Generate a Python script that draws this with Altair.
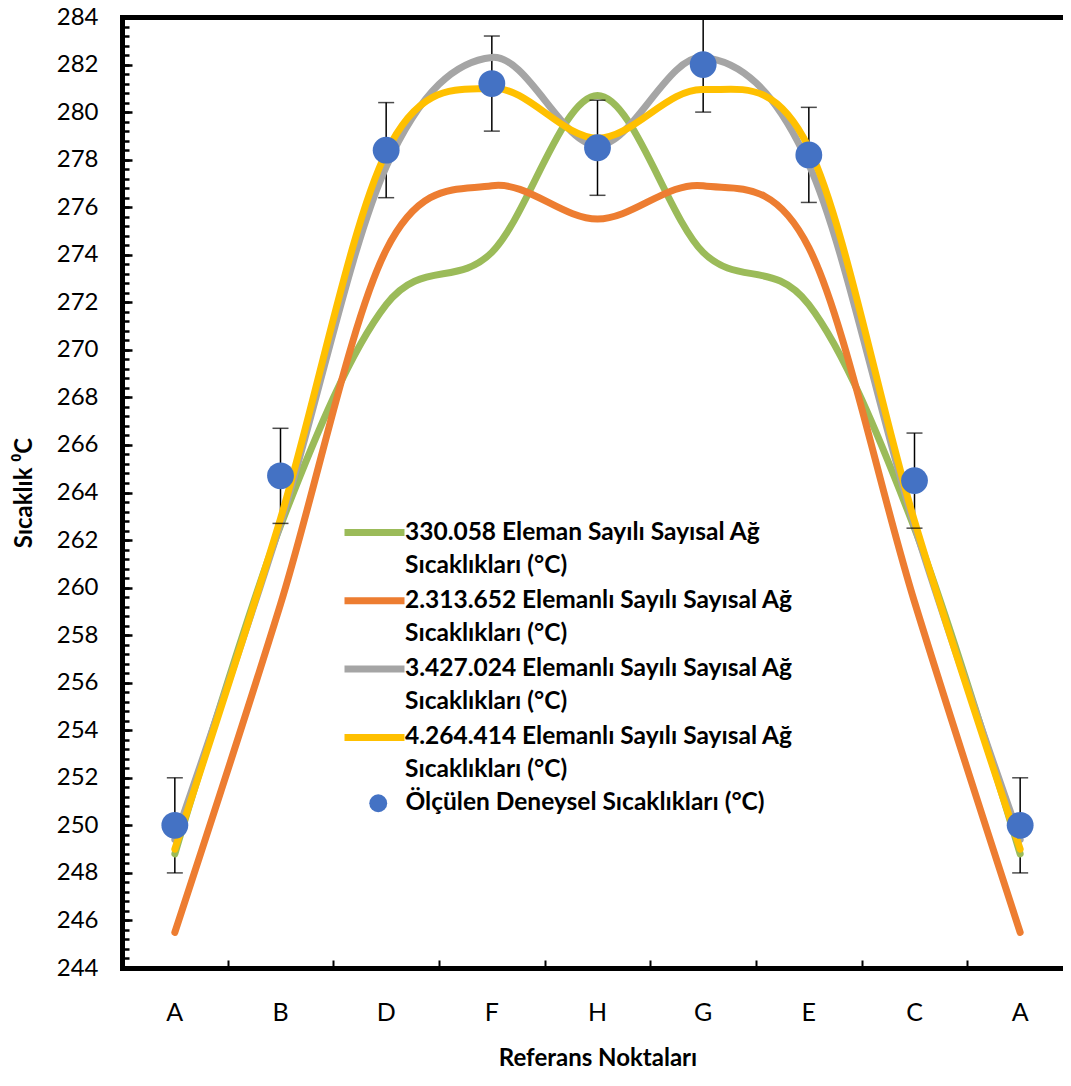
import altair as alt
import pandas as pd

# ---------------- data ----------------
cats = ["A", "B", "D", "F", "H", "G", "E", "C", "A"]

series_names = [
    "330.058 Eleman Sayılı Sayısal Ağ\nSıcaklıkları (°C)",
    "2.313.652 Elemanlı Sayılı Sayısal Ağ\nSıcaklıkları (°C)",
    "3.427.024 Elemanlı Sayılı Sayısal Ağ\nSıcaklıkları (°C)",
    "4.264.414 Elemanlı Sayılı Sayısal Ağ\nSıcaklıkları (°C)",
]
series_colors = ["#9BBB59", "#ED7D31", "#A5A5A5", "#FFC000"]

green = [248.8, 262.6, 271.9, 274.1, 280.7, 274.1, 271.9, 262.5, 248.8]
orange = [245.5, 259.3, 274.2, 276.9, 275.5, 276.9, 274.3, 259.4, 245.5]
gray = [249.4, 262.7, 277.7, 282.3, 278.6, 282.3, 277.8, 262.6, 249.4]
yellow = [249.0, 262.9, 278.3, 281.0, 278.9, 280.95, 278.5, 262.8, 249.0]

measured_name = "Ölçülen Deneysel Sıcaklıkları (°C)"
measured = [250.0, 264.7, 278.4, 281.2, 278.5, 282.0, 278.2, 264.5, 250.0]
error = [2, 2, 2, 2, 2, 2, 2, 2, 2]

y_major = [244 + 2 * i for i in range(21)]
y_minor = [round(244 + 0.4 * i, 1) for i in range(101)]

# ---------------- tables ----------------
rows = []
for name, vals in zip(series_names, [green, orange, gray, yellow]):
    for i, v in enumerate(vals):
        rows.append({"idx": i, "series": name, "value": v})
lines_df = pd.DataFrame(rows)

meas_df = pd.DataFrame({
    "idx": list(range(len(cats))),
    "series": [measured_name] * len(cats),
    "measured": measured,
    "lo": [m - e for m, e in zip(measured, error)],
    "hi": [m + e for m, e in zip(measured, error)],
})
caps_df = pd.DataFrame(
    [{"idx": i, "cap": m - e} for i, (m, e) in enumerate(zip(measured, error))]
    + [{"idx": i, "cap": m + e} for i, (m, e) in enumerate(zip(measured, error))]
)

FONT = "Lato"
label_expr = "[" + ",".join("'%s'" % c for c in cats) + "][datum.value]"

xscale = alt.Scale(type="band", paddingInner=0, paddingOuter=0, domain=list(range(len(cats))))
yscale = alt.Scale(domain=[244, 284], nice=False, zero=False)

# ---------------- layers ----------------
lines = alt.Chart(lines_df).mark_line(
    interpolate="cardinal", strokeWidth=7, strokeCap="round", strokeJoin="round"
).encode(
    x=alt.X("idx:O", scale=xscale, bandPosition=0.5,
            axis=alt.Axis(orient="bottom", title="Referans Noktaları", titleFont=FONT,
                          titleFontSize=24, titleFontWeight="bold", titleColor="black",
                          titlePadding=21, labelExpr=label_expr, labelFont=FONT,
                          labelFontSize=25, labelColor="black", labelAngle=0,
                          labelPadding=32, ticks=False, domainColor="black",
                          domainWidth=5, domainCap="square", grid=False)),
    y=alt.Y("value:Q", scale=yscale,
            axis=alt.Axis(orient="left", title="Sıcaklık ⁰C", titleFont=FONT,
                          titleFontSize=24, titleFontWeight="bold", titleColor="black",
                          titlePadding=20, values=y_major, labelFont=FONT,
                          labelFontSize=24, labelColor="black", labelPadding=24,
                          ticks=False, domainColor="black", domainWidth=5,
                          domainCap="square", grid=False)),
    color=alt.Color("series:N", sort=series_names,
                    scale=alt.Scale(domain=series_names, range=series_colors),
                    legend=alt.Legend(orient="none", legendX=234, legendY=497, title=None,
                                      symbolType="M-2,0L2,0", symbolSize=900,
                                      symbolStrokeWidth=7, labelFont=FONT,
                                      labelFontSize=24.5, labelFontWeight="bold",
                                      labelColor="black", labelLimit=0, labelOffset=12,
                                      labelExpr="split(datum.label, '\\n')",
                                      labelBaseline="middle", rowPadding=5.3)),
    detail="series:N",
)

err_rules = alt.Chart(meas_df).mark_rule(color="black", strokeWidth=1.5).encode(
    x=alt.X("idx:O", scale=xscale, bandPosition=0.5,
            axis=alt.Axis(orient="bottom", offset=-8, ticks=True, tickSize=8, tickWidth=2,
                          tickColor="black", tickBand="extent", labels=False,
                          domain=False, title=None, grid=False)),
    y=alt.Y("lo:Q", scale=yscale,
            axis=alt.Axis(orient="left", offset=-10, ticks=True, tickSize=10, tickWidth=2.5,
                          tickColor="black", values=y_major, labels=False,
                          domain=False, title=None, grid=False)),
    y2="hi:Q",
)

err_caps = alt.Chart(caps_df).mark_tick(
    orient="horizontal", color="black", size=16, thickness=1.5
).encode(
    x=alt.X("idx:O", scale=xscale, bandPosition=0.5,
            axis=alt.Axis(orient="top", ticks=False, labels=False, domain=True,
                          domainColor="black", domainWidth=5, domainCap="square",
                          title=None, grid=False)),
    y=alt.Y("cap:Q", scale=yscale,
            axis=alt.Axis(orient="left", offset=-7, ticks=True, tickSize=7, tickWidth=2.5,
                          tickColor="black", values=y_minor, labels=False,
                          domain=False, title=None, grid=False)),
)

points = alt.Chart(meas_df).mark_point(
    filled=True, size=720, color="#4472C4", opacity=1
).encode(
    x=alt.X("idx:O", scale=xscale, bandPosition=0.5, axis=None),
    y=alt.Y("measured:Q", scale=yscale,
            axis=alt.Axis(orient="right", ticks=False, labels=False, domain=True,
                          domainColor="#8c8c8c", domainWidth=1.5, title=None, grid=False)),
    shape=alt.Shape("series:N", scale=alt.Scale(domain=[measured_name], range=["circle"]),
                    legend=alt.Legend(orient="none", legendX=244, legendY=774, title=None,
                                      symbolSize=320, symbolFillColor="#4472C4",
                                      symbolStrokeColor="#4472C4", symbolStrokeWidth=0,
                                      symbolOpacity=1,
                                      labelFont=FONT, labelFontSize=24.5,
                                      labelFontWeight="bold", labelColor="black",
                                      labelLimit=0, labelOffset=15)),
)

chart = alt.layer(err_rules, lines, err_caps, points).resolve_axis(
    x="independent", y="independent"
).properties(
    width=951, height=951,
    autosize=alt.AutoSizeParams(type="none"),
    padding={"left": 114, "top": 9, "right": -10, "bottom": 104},
    background="white",
).configure(
    view=alt.ViewConfig(stroke=None),
    style={"guide-label": {"lineHeight": 33}},
)

chart.save("out.html", embed_options={"renderer": "svg", "actions": False})
